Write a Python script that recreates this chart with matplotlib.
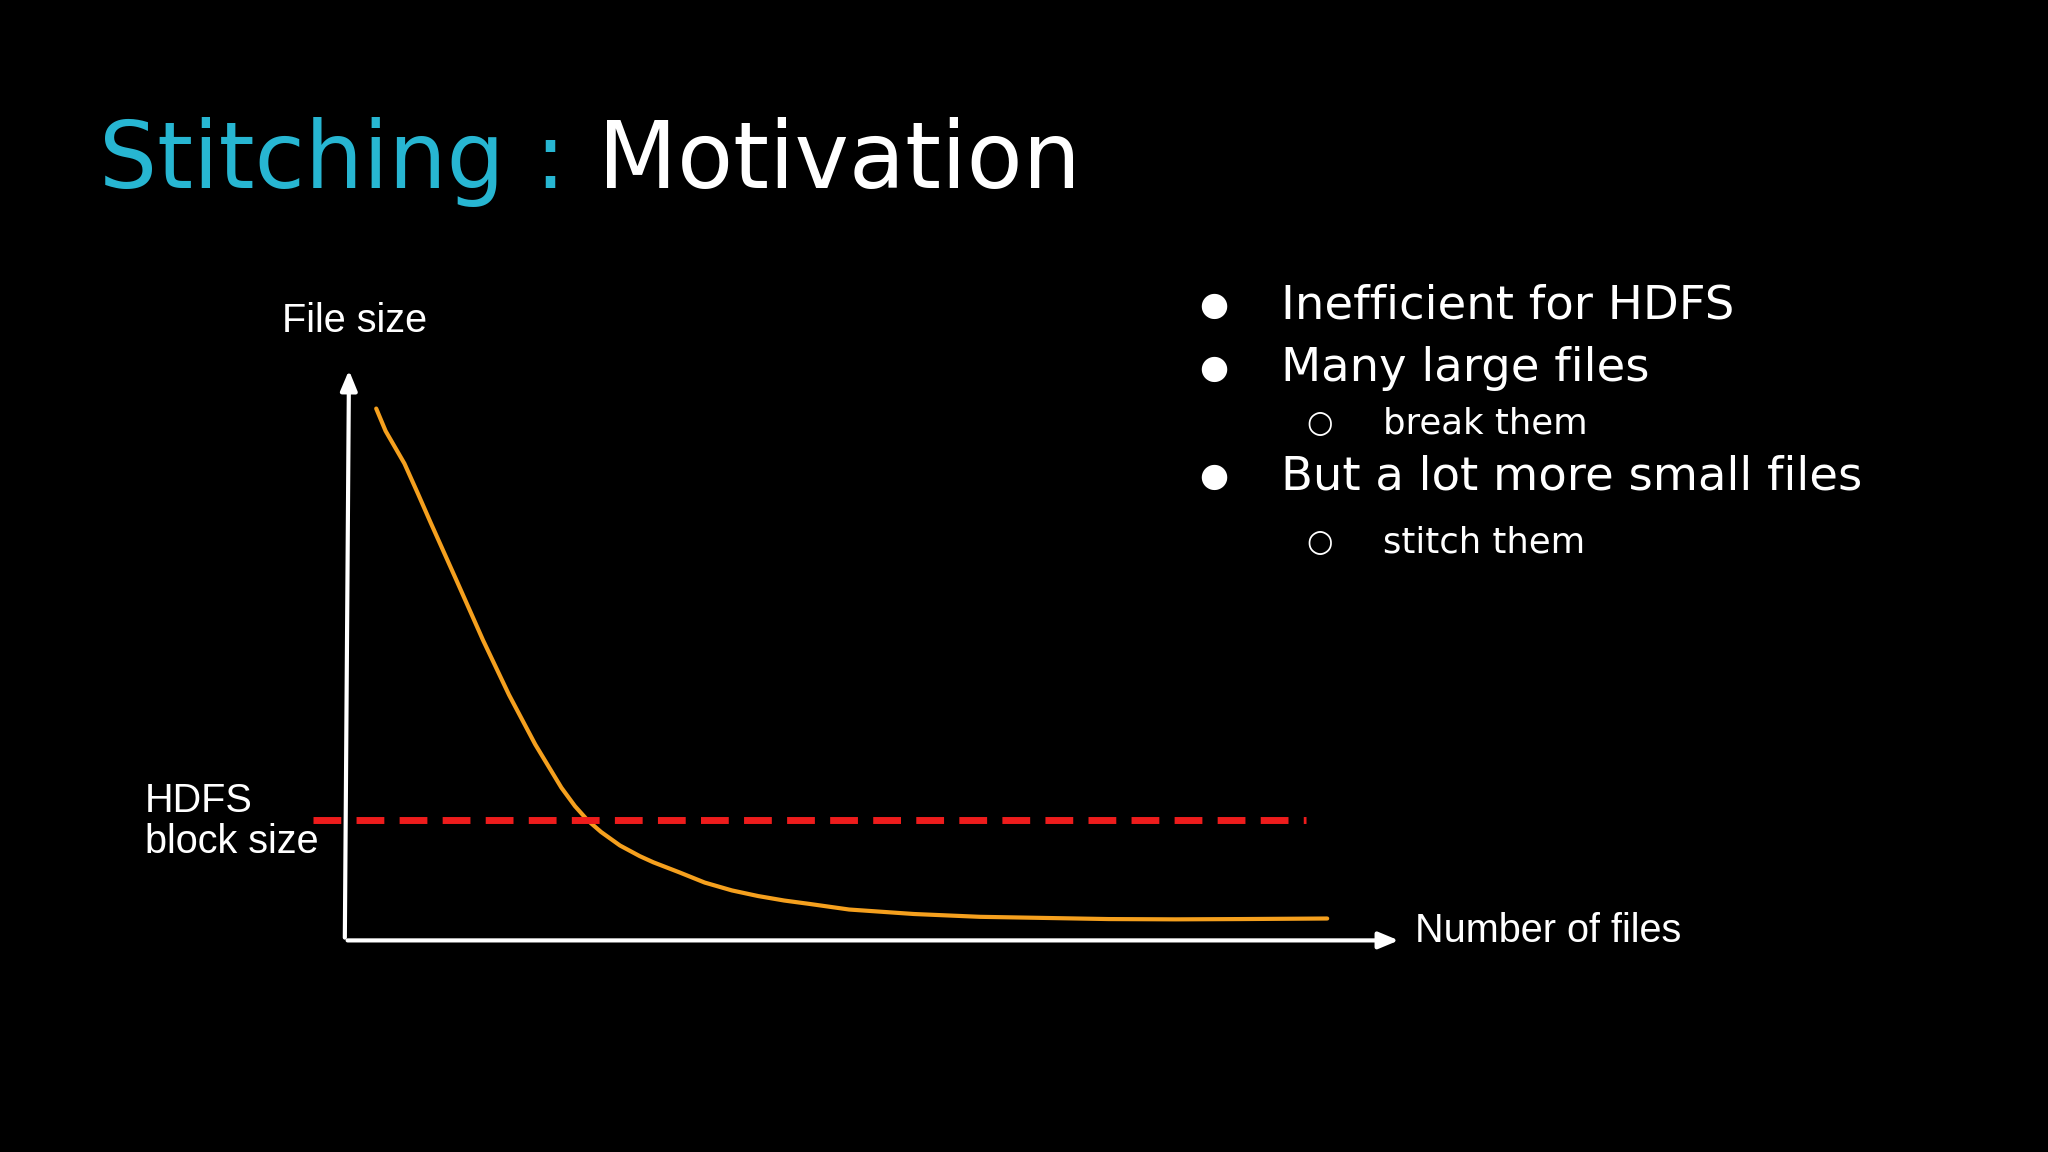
import matplotlib
matplotlib.use("Agg")
import matplotlib.pyplot as plt

# data (axis units 0..100)
files = [3, 3.9, 5.7, 7, 8.2, 10.7, 13.2, 15.7, 18.2, 20.7, 22, 23.2, 24.5, 26.3, 28.2, 29.5, 32, 34.4, 37, 39.5, 42, 44.4, 48.2, 54.4, 60.7, 66.9, 73, 79.4, 85.6, 93.9]
size = [94.7, 90.7, 84.9, 79.5, 74.4, 64, 53.5, 43.7, 34.9, 27.2, 23.9, 21.4, 19.3, 16.9, 15.0, 13.9, 12.1, 10.3, 8.9, 7.9, 7.1, 6.5, 5.5, 4.7, 4.2, 4.0, 3.8, 3.75, 3.8, 3.9]
block_size = 21.4
block_x = [-3, 91.9]

W, H = 1568, 882
fig = plt.figure(figsize=(20.48, 11.52), dpi=100, facecolor="black")
def fx(px): return px / W
def fy(py): return 1 - py / H

ax = fig.add_axes([fx(264), fy(720), fx(1065) - fx(264), fy(290) - fy(720)])
ax.set_facecolor("black")
ax.set_xlim(0, 100); ax.set_ylim(0, 100)
ax.axis("off")
ax.plot(files, size, color="#f5a01e", lw=3, clip_on=False, solid_capstyle="round", solid_joinstyle="round")
ax.plot(block_x, [block_size] * 2, color="#ee1c1c", lw=5, ls=(0, (4, 2.2)), clip_on=False)
ax.annotate("", xy=(101, 0), xytext=(0, 0),
            arrowprops=dict(arrowstyle="-|>,head_length=1.2,head_width=0.5", color="white", lw=3), annotation_clip=False)
ax.annotate("", xy=(0.4, 102), xytext=(0, 0),
            arrowprops=dict(arrowstyle="-|>,head_length=1.2,head_width=0.5", color="white", lw=3), annotation_clip=False)

lab = dict(color="white", family="Liberation Sans", fontsize=28.5)
fig.text(fx(216), fy(246), "File size", va="center", **lab)
fig.text(fx(1083), fy(713), "Number of files", va="center", **lab)
fig.text(fx(111), fy(629), "HDFS\nblock size", va="center", linespacing=1.1, **lab)

fig.text(fx(76), fy(124), "Stitching", color="#27b6d2", fontsize=66, va="center", family="DejaVu Sans")
fig.text(fx(409), fy(124), ":", color="#27b6d2", fontsize=66, va="center", family="DejaVu Sans")
fig.text(fx(458), fy(124), "Motivation", color="white", fontsize=66, va="center", family="DejaVu Sans")

bl = dict(color="white", fontsize=33.5, va="center", family="DejaVu Sans")
for y, t in [(234, "Inefficient for HDFS"), (282, "Many large files"), (365, "But a lot more small files")]:
    fig.text(fx(918), fy(y), "●", color="white", fontsize=24, va="center")
    fig.text(fx(981), fy(y), t, **bl)
for y, t in [(324, "break them"), (415, "stitch them")]:
    fig.text(fx(1000), fy(y), "○", color="white", fontsize=22, va="center")
    fig.text(fx(1059), fy(y), t, color="white", fontsize=25.5, va="center", family="DejaVu Sans")

fig.savefig("out.png", dpi=100, facecolor="black")
